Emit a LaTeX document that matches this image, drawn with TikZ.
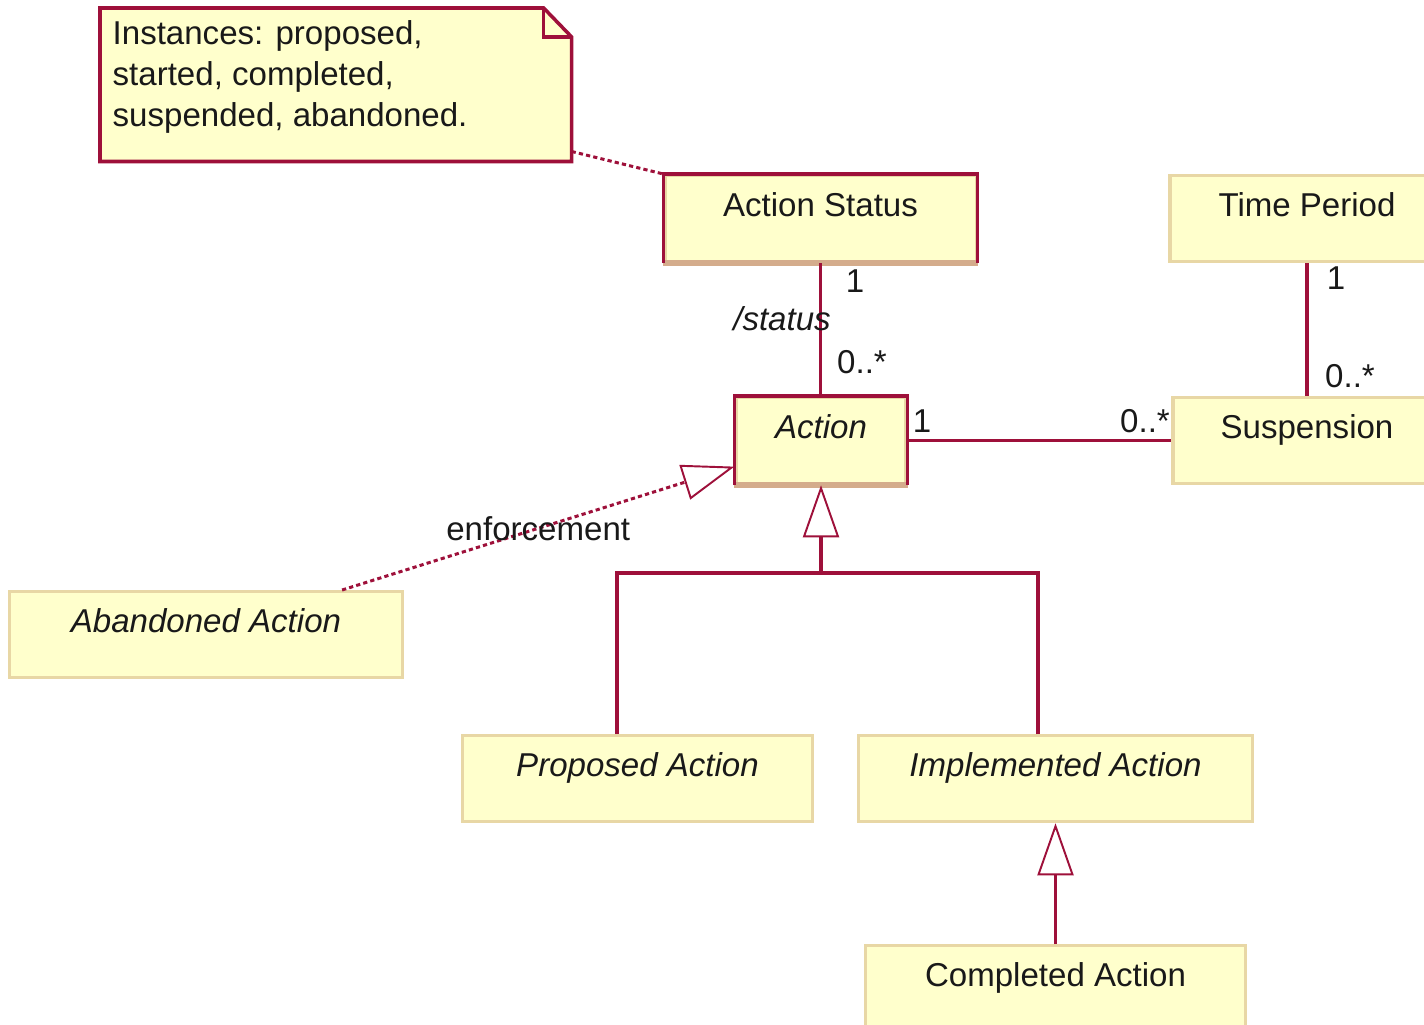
\documentclass[tikz,border=0pt]{standalone}
\usepackage{fontspec}
\setmainfont{Liberation Sans}
\usetikzlibrary{arrows.meta,calc}
\definecolor{umlred}{RGB}{158,16,58}
\definecolor{umlfill}{RGB}{255,255,204}
\definecolor{umltan}{RGB}{232,215,165}
\definecolor{umlshadow}{RGB}{212,172,140}
\definecolor{textc}{RGB}{25,25,25}
\newcommand\umlfs{\fontsize{9.4pt}{11.7pt}\selectfont}
\begin{document}
\begin{tikzpicture}[x=0.01cm, y=-0.01cm,
  cls/.style={draw=umltan, line width=0.9pt, fill=umlfill, inner xsep=0pt, inner ysep=0pt,
    anchor=north, text height=0.41cm, text depth=0.45cm, text=textc, font=\umlfs},
  abs/.style={font=\umlfs\itshape},
  lab/.style={inner sep=0pt, font=\umlfs, text=textc},
  assoc/.style={draw=umlred, line width=0.95pt},
  dashline/.style={draw=umlred, line width=0.85pt, dash pattern=on 1.2pt off 0.9pt},
  gentip/.style={-{Triangle[open, length=0.52cm, width=0.36cm, line width=0.55pt]}},
  gen/.style={assoc, gentip}]
\useasboundingbox (0,0) rectangle (1424,1024);

% note
\node[minimum width=4.70cm, minimum height=1.52cm, inner sep=0pt, anchor=north west] (note) at (100,8) {};
\filldraw[fill=umlfill, draw=umlred, line width=1pt] (note.north west) -- ([xshift=-0.28cm]note.north east)
  -- ([yshift=-0.29cm]note.north east) -- (note.south east) -- (note.south west) -- cycle;
\draw[umlred, line width=1pt] ([xshift=-0.28cm]note.north east) |- ([yshift=-0.29cm]note.north east);
\node[anchor=north west, inner sep=0pt, align=left, font=\umlfs, text=textc] (notetext) at (112,20)
  {Instances: proposed,\\started, completed,\\suspended, abandoned.};

% classes
\node[cls, minimum width=3.11cm] (AS) at (820.5,174) {Action Status};
\node[cls, minimum width=2.74cm] (TP) at (1307,174) {Time Period};
\node[cls, abs, minimum width=1.70cm] (Act) at (821,396) {Action};
\node[cls, minimum width=2.68cm] (Susp) at (1307,396) {Suspension};
\node[cls, abs, minimum width=3.92cm] (Ab) at (206,590) {Abandoned Action};
\node[cls, abs, minimum width=3.49cm] (Prop) at (637.5,734) {Proposed Action};
\node[cls, abs, minimum width=3.93cm] (Impl) at (1055.5,734) {Implemented Action};
\node[cls, minimum width=3.80cm] (Comp) at (1055.5,944) {Completed Action};

% selected look
\draw[umlshadow, line width=1.8pt] (AS.south west) -- (AS.south east);
\draw[umlred, line width=1pt] (AS.south west) -- (AS.north west) -- (AS.north east) -- (AS.south east);
\draw[umlshadow, line width=1.8pt] (Act.south west) -- (Act.south east);
\draw[umlred, line width=1pt] (Act.south west) -- (Act.north west) -- (Act.north east) -- (Act.south east);

% connectors
\draw[dashline] ([yshift=0.1cm]note.south east) -- (AS.north west);
\draw[assoc] (AS.south) -- (AS.south |- Act.north);
\draw[assoc] (Act.east) -- (Susp.west);
\draw[assoc] (TP.south) -- (Susp.north);
\draw[dashline, gentip] ([xshift=1.36cm]Ab.north) -- ([yshift=-0.26cm]Act.west)
  node[pos=0.5, lab] (enf) {enforcement};
\coordinate (J) at (821,573);
\draw[assoc] ([xshift=-0.205cm]Prop.north) |- (J);
\draw[assoc] ([xshift=-0.175cm]Impl.north) |- (J);
\draw[gen] (J) -- (Act.south);
\draw[gen] (Comp.north) -- (Impl.south);

% labels
\node[lab] (m1) at (855,281) {1};
\node[lab, font=\umlfs\itshape] (rs) at (782,319) {/status};
\node[lab] (m2) at (862,362) {0..*};
\node[lab] (m3) at (922,421) {1};
\node[lab] (m4) at (1145,421) {0..*};
\node[lab] (m5) at (1336,278) {1};
\node[lab] (m6) at (1350,376) {0..*};
\end{tikzpicture}
\end{document}
